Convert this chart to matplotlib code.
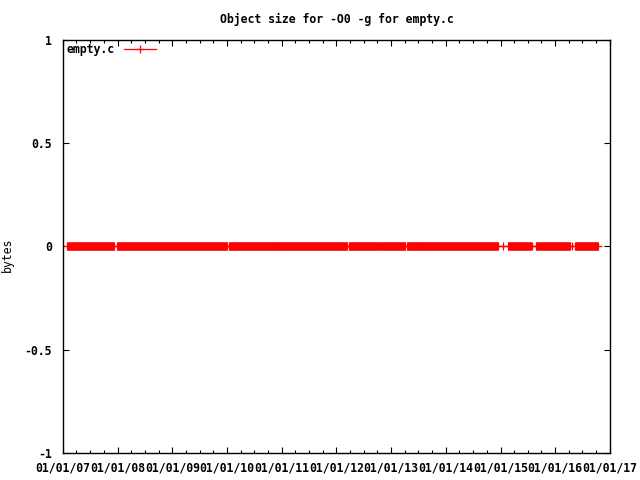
import numpy as np
import matplotlib
matplotlib.use("Agg")
import matplotlib.pyplot as plt
import matplotlib.dates as mdates
from matplotlib.lines import Line2D

# dense stretches of commits (object size stays 0 bytes throughout)
run_starts = ["2007-01-30", "2007-12-27", "2010-01-13", "2010-11-12", "2012-03-25",
              "2012-10-11", "2013-04-16", "2013-07-07", "2015-02-20", "2015-08-27",
              "2016-05-12"]
run_ends = ["2007-12-07", "2009-12-31", "2010-11-08", "2012-03-11", "2012-10-04",
            "2013-04-03", "2013-07-03", "2014-12-15", "2015-07-23", "2016-04-10",
            "2016-10-13"]
lone_dates = ["2015-01-17", "2015-07-31", "2016-04-22"]
size_bytes = 0

y_ticks = [-1, -0.5, 0, 0.5, 1]
y_labels = ["-1", "-0.5", "0", "0.5", "1"]

fs = 8.3
plt.rcParams['font.family'] = ['DejaVu Sans Mono']
plt.rcParams['font.weight'] = 'bold'
plt.rcParams['font.size'] = fs

starts = np.array(run_starts, dtype="datetime64[D]")
ends = np.array(run_ends, dtype="datetime64[D]")
lone = np.array(lone_dates, dtype="datetime64[D]")
all_pts = np.sort(np.concatenate([starts, ends, lone]))

fig = plt.figure(figsize=(6.4, 4.8), dpi=100)
ax = fig.add_axes([63 / 640, 1 - 453 / 480, 547 / 640, 413 / 480])

red = "#ff0000"
ax.plot(all_pts, np.full(len(all_pts), size_bytes), color=red, lw=0.9,
        marker="+", ms=6, mew=0.9)
bands = ax.hlines(np.full(len(starts), size_bytes), starts, ends, colors=red,
                  linewidth=6.2)
bands.set_capstyle("butt")

ax.set_xlim(np.datetime64("2007-01-01"), np.datetime64("2017-01-01"))
ax.set_ylim(-1, 1)
ax.set_yticks(y_ticks)
ax.set_yticklabels(y_labels)

ax.xaxis.set_major_locator(mdates.YearLocator())
ax.xaxis.set_minor_locator(mdates.MonthLocator(bymonth=[1, 4, 7, 10]))
ax.xaxis.set_major_formatter(mdates.DateFormatter("%m/%d/%y"))

ax.tick_params(which="both", direction="in", top=True, right=True, width=0.8,
               colors="black", labelsize=fs)
ax.tick_params(which="major", length=4.5, pad=6)
ax.tick_params(axis="y", which="major", pad=8)
ax.tick_params(which="minor", length=2.5)
for s in ax.spines.values():
    s.set_linewidth(1)

ax.set_title("Object size for -O0 -g for empty.c", fontsize=fs, pad=12,
             fontweight="bold")
ax.set_ylabel("bytes")
ax.yaxis.set_label_coords(-0.09, 0.48)

proxy = Line2D([], [], color=red, lw=0.9, marker="+", ms=6, mew=0.9)
ax.legend([proxy], ["empty.c"], loc="upper left", frameon=False,
          markerfirst=False, handlelength=2.8, borderaxespad=0.1,
          borderpad=0.2, handletextpad=0.8)

fig.savefig("out.png", dpi=100)
